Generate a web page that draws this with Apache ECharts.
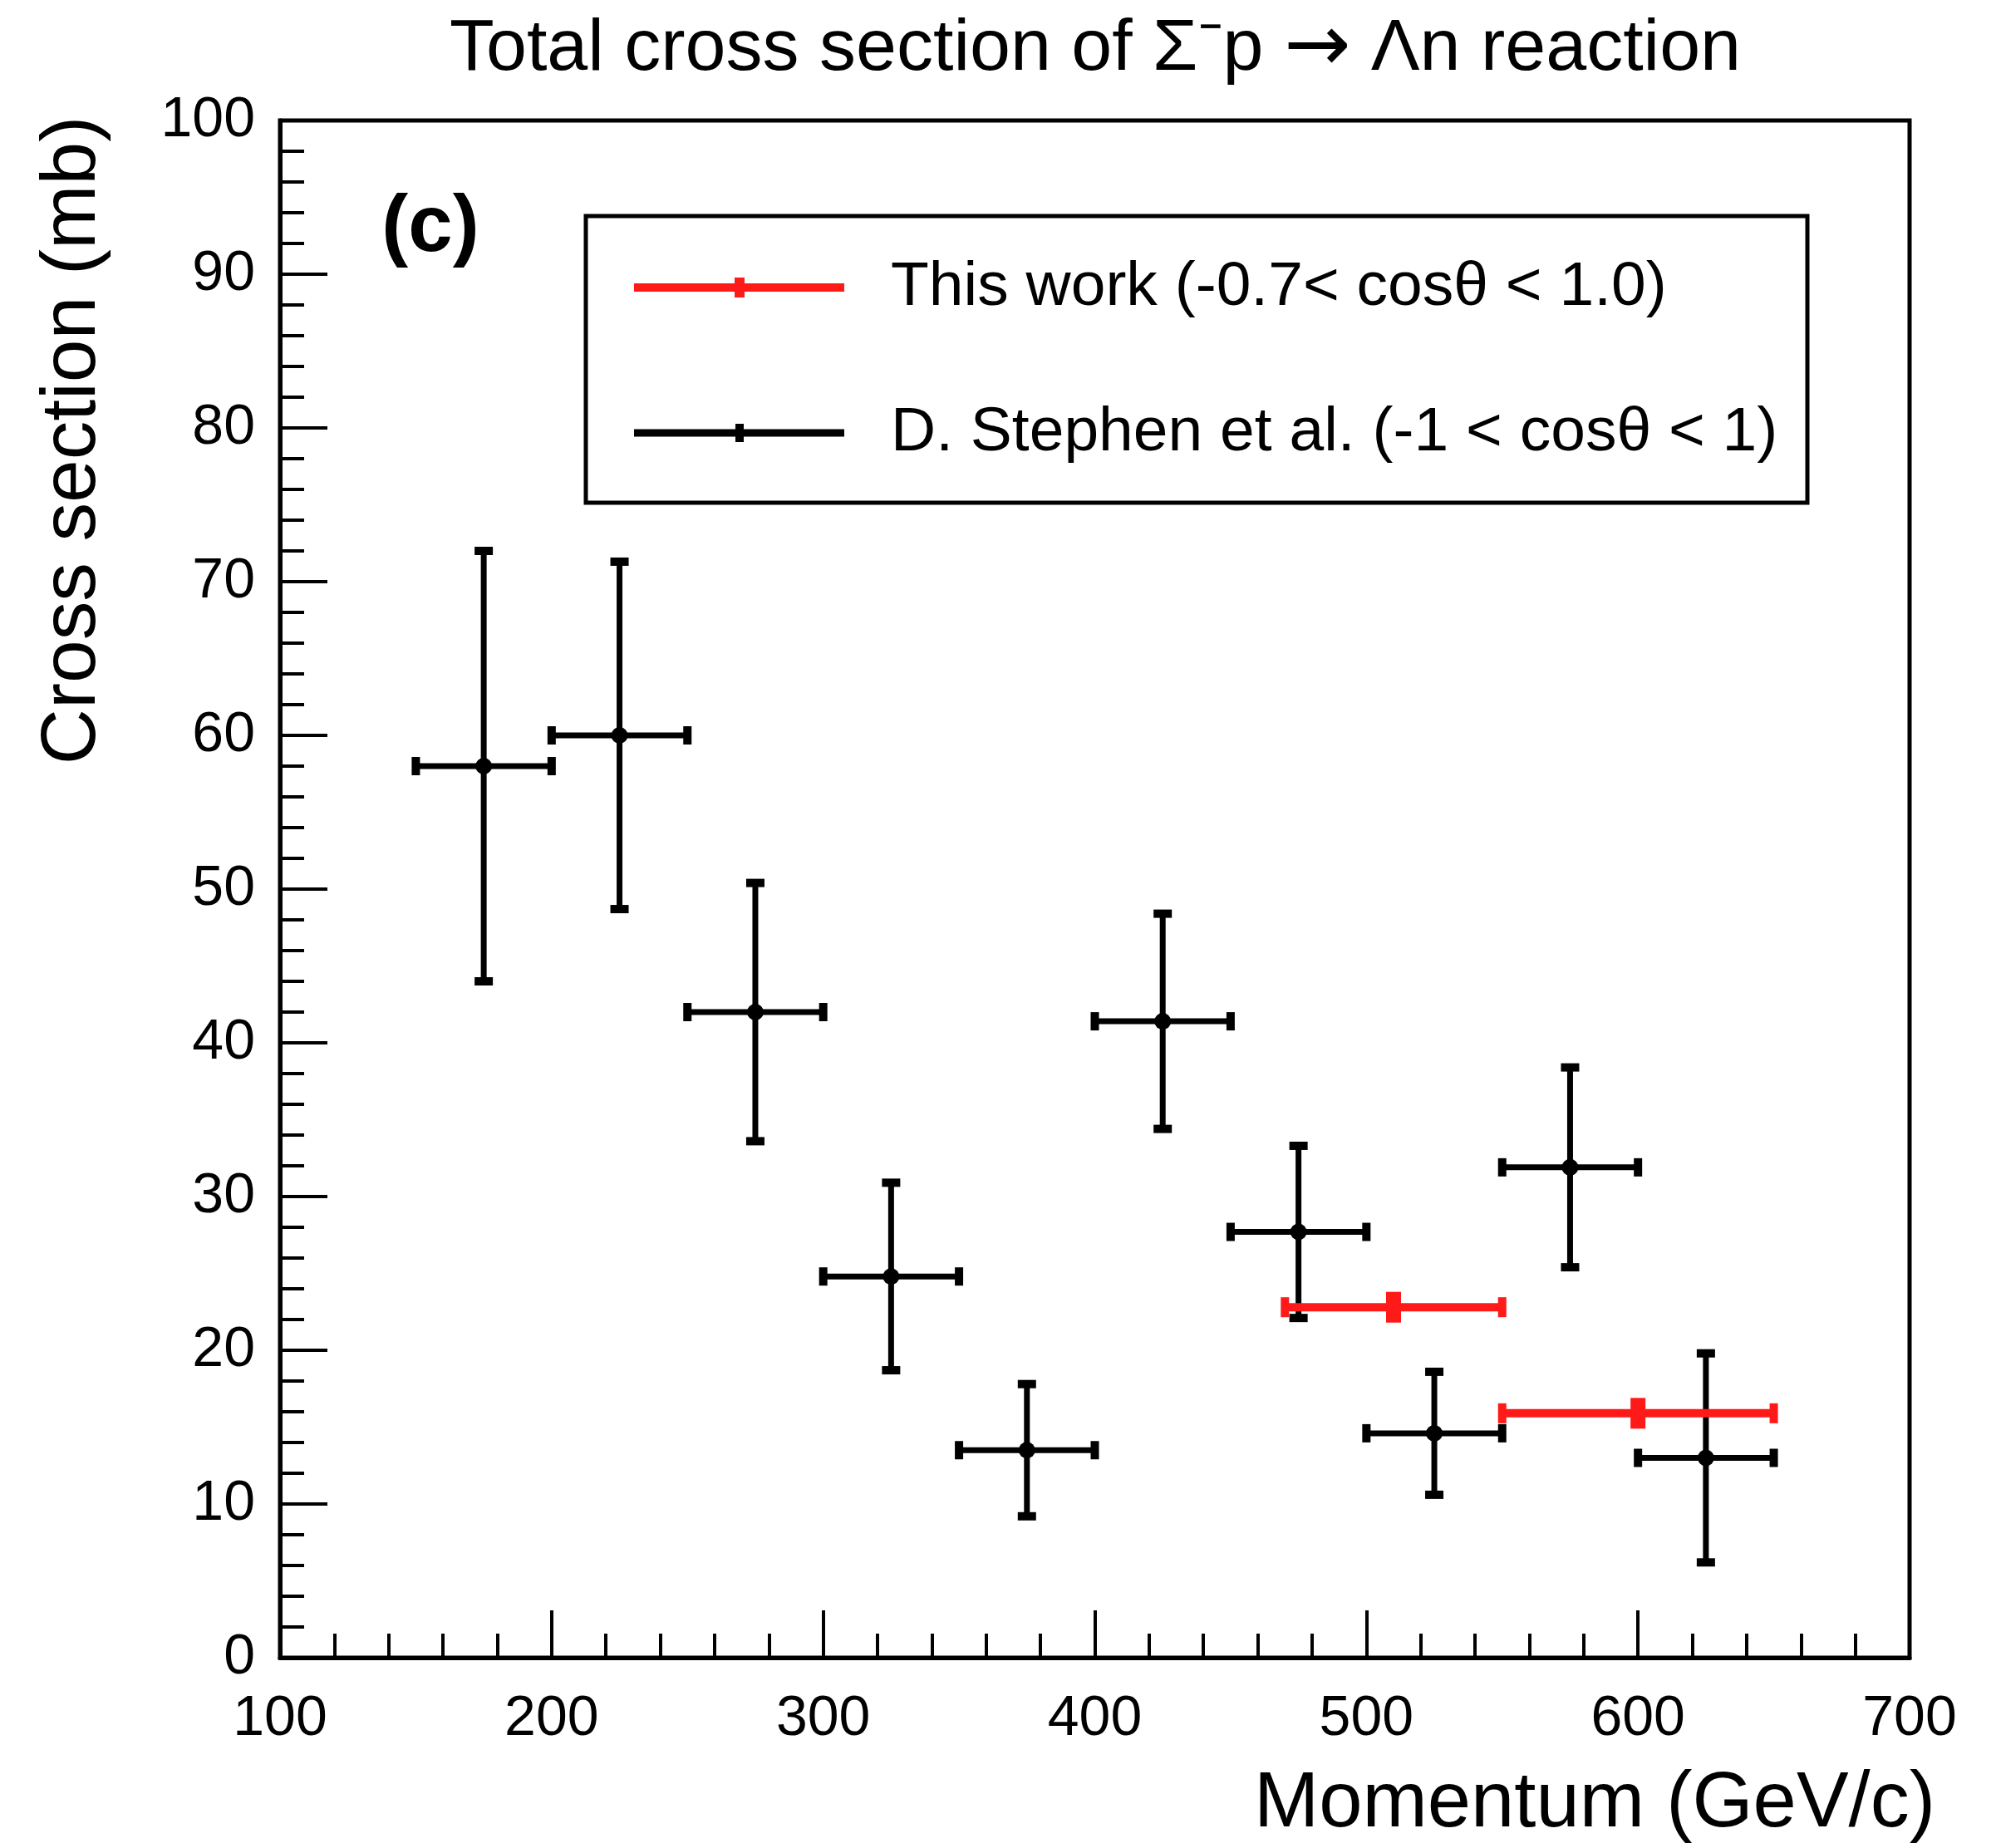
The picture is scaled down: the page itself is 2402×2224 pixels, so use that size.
<!DOCTYPE html>
<html>
<head>
<meta charset="utf-8">
<script src="https://cdn.jsdelivr.net/npm/echarts@6/dist/echarts.min.js"></script>
<style>html,body{margin:0;padding:0;background:#fff;}#c{width:2402px;height:2224px;}</style>
</head>
<body>
<div id="c"></div>
<script>
// ---- data ----
var stephenMomentum = [175, 225, 275, 325, 375, 425, 475, 525, 575, 625];
var stephenMomErr   = [25, 25, 25, 25, 25, 25, 25, 25, 25, 25];
var stephenSigma    = [58.0, 60.0, 42.0, 24.8, 13.5, 41.4, 27.7, 14.6, 31.9, 13.0];
var stephenSigmaErr = [14.0, 11.3, 8.4, 6.1, 4.3, 7.0, 5.6, 4.0, 6.5, 6.8];

var thisMomentum   = [510, 600];
var thisMomLow     = [470, 550];
var thisMomHigh    = [550, 650];
var thisSigma      = [22.8, 15.9];
var thisSigmaErr   = [1.0, 1.0];

var xTicks = [100, 200, 300, 400, 500, 600, 700];
var yTicks = [0, 10, 20, 30, 40, 50, 60, 70, 80, 90, 100];

var FONT = '"Liberation Sans", Arial, Helvetica, sans-serif';

var blackData = stephenMomentum.map(function (x, i) {
  return [x, stephenSigma[i], x - stephenMomErr[i], x + stephenMomErr[i],
          stephenSigma[i] - stephenSigmaErr[i], stephenSigma[i] + stephenSigmaErr[i]];
});
var redData = thisMomentum.map(function (x, i) {
  return [x, thisSigma[i], thisMomLow[i], thisMomHigh[i],
          thisSigma[i] - thisSigmaErr[i], thisSigma[i] + thisSigmaErr[i]];
});

function line(x1, y1, x2, y2, color, w) {
  return { type: 'line', shape: { x1: x1, y1: y1, x2: x2, y2: y2 },
           style: { stroke: color, lineWidth: w, lineCap: 'butt' } };
}

function renderBlack(params, api) {
  var c = api.coord([api.value(0), api.value(1)]);
  var l = api.coord([api.value(2), api.value(1)]);
  var r = api.coord([api.value(3), api.value(1)]);
  var b = api.coord([api.value(0), api.value(4)]);
  var t = api.coord([api.value(0), api.value(5)]);
  var col = '#000', w = 7, cap = 11;
  return { type: 'group', children: [
    line(l[0], l[1], r[0], r[1], col, w),
    line(b[0], b[1], t[0], t[1], col, w),
    line(l[0], l[1] - cap, l[0], l[1] + cap, col, 10),
    line(r[0], r[1] - cap, r[0], r[1] + cap, col, 10),
    line(t[0] - cap, t[1], t[0] + cap, t[1], col, 10),
    line(b[0] - cap, b[1], b[0] + cap, b[1], col, 10),
    { type: 'circle', shape: { cx: c[0], cy: c[1], r: 10 }, style: { fill: col } }
  ]};
}

function renderRed(params, api) {
  var c = api.coord([api.value(0), api.value(1)]);
  var l = api.coord([api.value(2), api.value(1)]);
  var r = api.coord([api.value(3), api.value(1)]);
  var b = api.coord([api.value(0), api.value(4)]);
  var t = api.coord([api.value(0), api.value(5)]);
  var col = '#ff1a1a', cap = 12;
  return { type: 'group', children: [
    line(l[0], l[1], r[0], r[1], col, 10),
    line(l[0], l[1] - cap, l[0], l[1] + cap, col, 10),
    line(r[0], r[1] - cap, r[0], r[1] + cap, col, 10),
    line(b[0], b[1], t[0], t[1], col, 18)
  ]};
}

var chart = echarts.init(document.getElementById('c'), null, { renderer: 'canvas' });

var axisCommon = {
  axisLine: { show: true, lineStyle: { color: '#000', width: 5 } },
  axisTick: { show: true, inside: true, length: 57, lineStyle: { color: '#000', width: 4 } },
  minorTick: { show: true, splitNumber: 5, length: 29, lineStyle: { color: '#000', width: 4 } },
  splitLine: { show: false },
  axisLabel: { color: '#000', fontSize: 68, fontFamily: FONT }
};

chart.setOption({
  animation: false,
  backgroundColor: '#fff',
  grid: { left: 337, right: 104, top: 145, bottom: 229, show: true,
          borderColor: '#000', borderWidth: 5, backgroundColor: 'transparent' },
  xAxis: Object.assign({}, axisCommon, {
    type: 'value', min: xTicks[0], max: xTicks[xTicks.length - 1], interval: 100,
    axisLabel: Object.assign({}, axisCommon.axisLabel, { margin: 40 })
  }),
  yAxis: Object.assign({}, axisCommon, {
    type: 'value', min: yTicks[0], max: yTicks[yTicks.length - 1], interval: 10,
    axisLabel: Object.assign({}, axisCommon.axisLabel, { margin: 30 })
  }),
  series: [
    { type: 'custom', name: 'D. Stephen et al.', renderItem: renderBlack, data: blackData,
      encode: { x: [0, 2, 3], y: [1, 4, 5] }, z: 3 },
    { type: 'custom', name: 'This work', renderItem: renderRed, data: redData,
      encode: { x: [0, 2, 3], y: [1, 4, 5] }, z: 4 }
  ],
  graphic: [
    { type: 'text', x: 1318, y: 60, style: {
      text: 'Total cross section of \u03A3\u207Bp {a|\u2192} \u039Bn reaction',
      rich: { a: { fontFamily: '"DejaVu Sans", sans-serif', fontSize: 96, fill: '#000' } },
      fontSize: 88, fontFamily: FONT, fill: '#000', textAlign: 'center', textVerticalAlign: 'middle' } },
    { type: 'text', x: 88, y: 530, rotation: Math.PI / 2, style: { text: 'Cross section (mb)',
      fontSize: 93, fontFamily: FONT, fill: '#000', textAlign: 'center', textVerticalAlign: 'middle' } },
    { type: 'text', x: 2329, y: 2172, style: { text: 'Momentum (GeV/c)',
      fontSize: 94, fontFamily: FONT, fill: '#000', textAlign: 'right', textVerticalAlign: 'middle' } },
    { type: 'text', x: 518, y: 276, style: { text: '(c)', fontSize: 96, fontWeight: 'bold',
      fontFamily: FONT, fill: '#000', textAlign: 'center', textVerticalAlign: 'middle' } },
    // legend box
    { type: 'rect', shape: { x: 705, y: 260, width: 1470, height: 345 },
      style: { fill: '#fff', stroke: '#000', lineWidth: 5 }, z: 10 },
    { type: 'line', shape: { x1: 763, y1: 346, x2: 1016, y2: 346 }, style: { stroke: '#ff1a1a', lineWidth: 10 }, z: 11 },
    { type: 'line', shape: { x1: 890, y1: 334, x2: 890, y2: 358 }, style: { stroke: '#ff1a1a', lineWidth: 12 }, z: 11 },
    { type: 'text', x: 1072, y: 346, style: { text: 'This work (-0.7< cos\u03B8 < 1.0)', fontSize: 75,
      fontFamily: FONT, fill: '#000', textVerticalAlign: 'middle' }, z: 11 },
    { type: 'line', shape: { x1: 763, y1: 521, x2: 1016, y2: 521 }, style: { stroke: '#000', lineWidth: 9 }, z: 11 },
    { type: 'line', shape: { x1: 890, y1: 510, x2: 890, y2: 532 }, style: { stroke: '#000', lineWidth: 10 }, z: 11 },
    { type: 'text', x: 1072, y: 521, style: { text: 'D. Stephen et al. (-1 < cos\u03B8 < 1)', fontSize: 75,
      fontFamily: FONT, fill: '#000', textVerticalAlign: 'middle' }, z: 11 }
  ]
});
</script>
</body>
</html>
